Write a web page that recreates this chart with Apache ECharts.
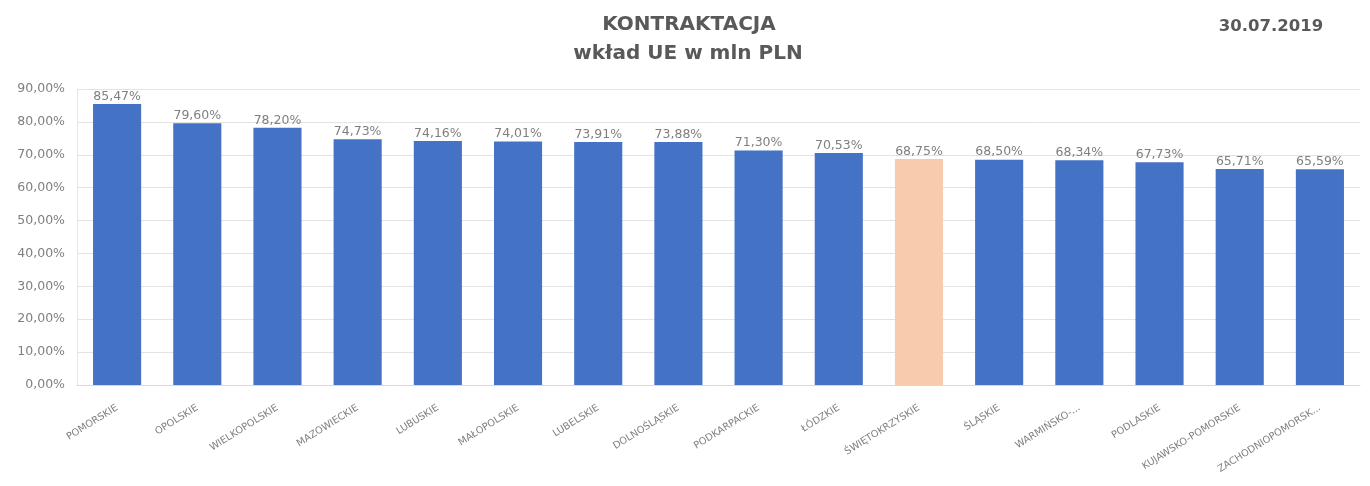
<!DOCTYPE html>
<html>
<head>
<meta charset="utf-8">
<script src="https://cdn.jsdelivr.net/npm/echarts@6/dist/echarts.min.js"></script>
<style>
  html, body { margin: 0; padding: 0; background: #fff; }
  #chart { width: 1370px; height: 486px; }
</style>
</head>
<body>
<div id="chart"></div>
<script>
// Regions, in descending order of EU-contribution contracting rate
const regions = [
  'POMORSKIE', 'OPOLSKIE', 'WIELKOPOLSKIE', 'MAZOWIECKIE', 'LUBUSKIE',
  'MAŁOPOLSKIE', 'LUBELSKIE', 'DOLNOŚLĄSKIE', 'PODKARPACKIE', 'ŁÓDZKIE',
  'ŚWIĘTOKRZYSKIE', 'ŚLĄSKIE', 'WARMIŃSKO-...', 'PODLASKIE',
  'KUJAWSKO-POMORSKIE', 'ZACHODNIOPOMORSK...'
];
// Contracting level, percent
const shares = [
  85.47, 79.60, 78.20, 74.73, 74.16, 74.01, 73.91, 73.88,
  71.30, 70.53, 68.75, 68.50, 68.34, 67.73, 65.71, 65.59
];
const highlighted = 'ŚWIĘTOKRZYSKIE';
const yTicks = { min: 0, max: 90, step: 10 };

const pct = v => v.toFixed(2).replace('.', ',') + '%';
const font = '"DejaVu Sans", "Open Sans", sans-serif';
const grey = '#595959';

const chart = echarts.init(document.getElementById('chart'));
chart.setOption({
  animation: false,
  graphic: [
    {
      type: 'text', x: 689, y: 25,
      style: {
        text: 'KONTRAKTACJA', align: 'center', verticalAlign: 'middle',
        font: 'bold 20px ' + font, fill: grey
      }
    },
    {
      type: 'text', x: 688, y: 54,
      style: {
        text: 'wkład UE w mln PLN', align: 'center', verticalAlign: 'middle',
        font: 'bold 20px ' + font, fill: grey
      }
    },
    {
      type: 'text', x: 1271, y: 27,
      style: {
        text: '30.07.2019', align: 'center', verticalAlign: 'middle',
        font: 'bold 16.5px ' + font, fill: grey
      }
    }
  ],
  grid: { left: 77, right: 10, top: 89, bottom: 101, containLabel: false },
  xAxis: {
    type: 'category',
    data: regions,
    axisLine: { lineStyle: { color: '#d9d9d9' } },
    axisTick: { show: false },
    axisLabel: {
      interval: 0, rotate: 32, margin: 22,
      fontFamily: font, fontSize: 9.8, color: '#7f7f7f'
    }
  },
  yAxis: {
    type: 'value',
    min: yTicks.min, max: yTicks.max, interval: yTicks.step,
    axisLine: { show: true, lineStyle: { color: '#e6e6e6' } },
    axisTick: { show: false },
    splitLine: { lineStyle: { color: '#e3e3e3' } },
    axisLabel: {
      margin: 12, fontFamily: font, fontSize: 12.5, color: '#7f7f7f',
      formatter: v => pct(v)
    }
  },
  series: [{
    type: 'bar',
    barWidth: '60%',
    data: shares.map((v, i) => ({
      value: v,
      itemStyle: { color: regions[i] === highlighted ? '#f8cbad' : '#4472c4' }
    })),
    label: {
      show: true, position: 'top', distance: 1,
      fontFamily: font, fontSize: 12.5, color: '#7f7f7f',
      formatter: p => pct(p.value)
    }
  }]
});
</script>
</body>
</html>
